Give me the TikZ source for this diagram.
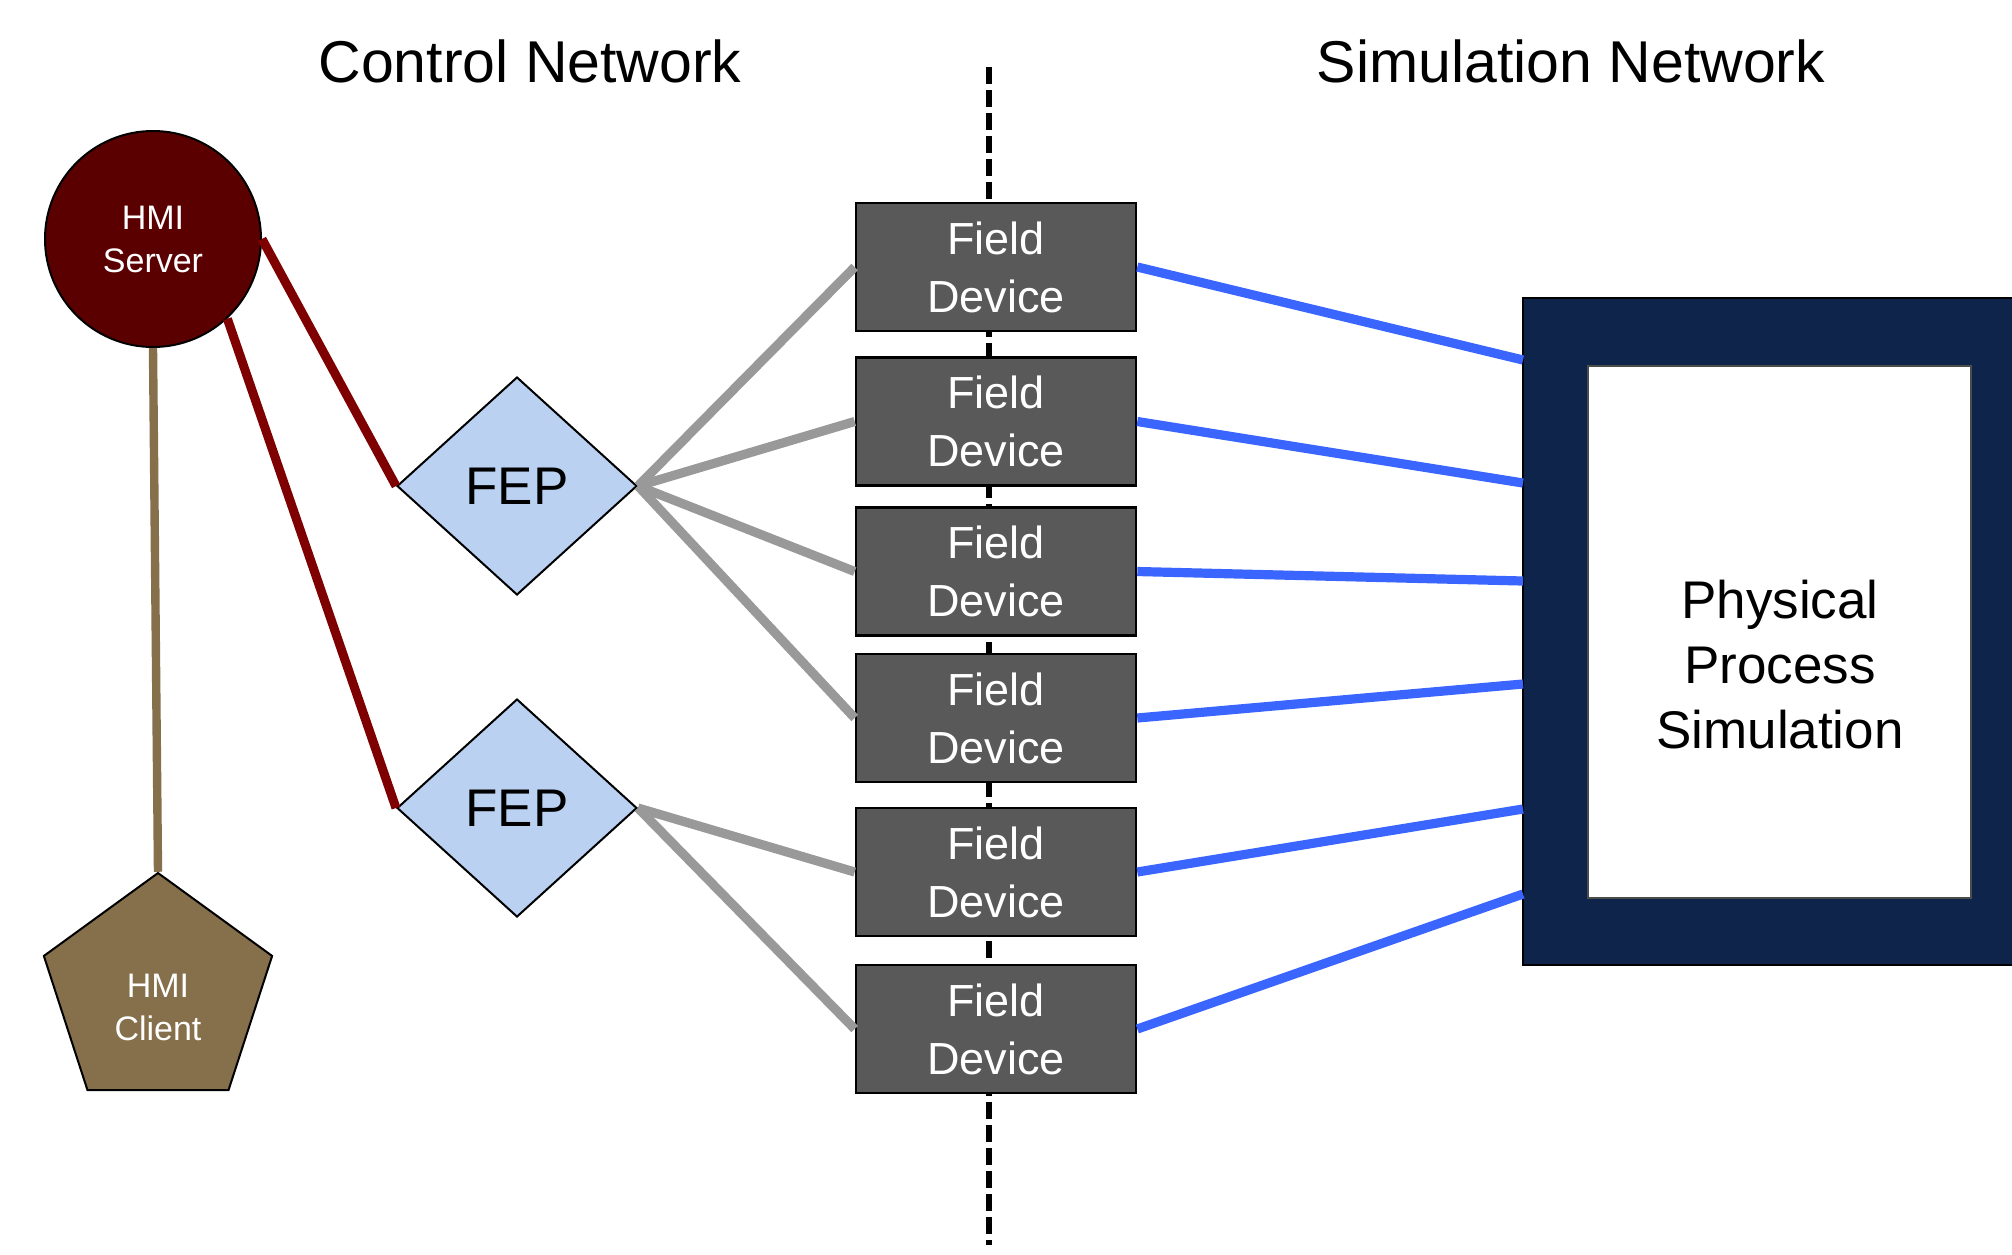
\documentclass[tikz,border=0pt]{standalone}
\usepackage{fontspec}
\setmainfont{Liberation Sans}
\usetikzlibrary{shapes.geometric,calc}
\definecolor{srvfill}{HTML}{5A0000}
\definecolor{redline}{HTML}{7F0000}
\definecolor{tanc}{HTML}{86704B}
\definecolor{fepfill}{HTML}{BAD1F2}
\definecolor{fdfill}{HTML}{595959}
\definecolor{grayline}{HTML}{999999}
\definecolor{blueline}{HTML}{3A66FF}
\definecolor{navy}{HTML}{0F244A}
\begin{document}
\begin{tikzpicture}[x=0.5pt,y=-0.5pt,
  title/.style={font=\fontsize{29.5}{35}\selectfont, anchor=base, inner sep=0},
  divider/.style={line width=3pt, dash pattern=on 8.5pt off 3pt},
  server/.style={circle, fill=srvfill, draw=black, line width=1pt, minimum size=108pt, inner sep=0,
    text=white, font=\fontsize{17}{21.5}\selectfont, align=center},
  client/.style={regular polygon, regular polygon sides=5, minimum size=120pt, inner sep=0,
    fill=tanc, draw=black, line width=1pt},
  clienttext/.style={text=white, font=\fontsize{17}{21.5}\selectfont, align=center, inner sep=0},
  fep/.style={diamond, minimum width=120pt, minimum height=109pt, inner sep=0, fill=fepfill,
    draw=black, line width=1pt, font=\fontsize{26.5}{30}\selectfont},
  fd/.style={rectangle, fill=fdfill, draw=black, line width=1.3pt, minimum width=140pt,
    minimum height=64pt, inner sep=0, text=white, font=\fontsize{22.5}{29}\selectfont, align=center},
  outerbox/.style={rectangle, fill=navy, draw=black, line width=1pt, minimum width=253.5pt,
    minimum height=333.5pt, inner sep=0},
  innerbox/.style={rectangle, fill=white, draw=black!70, line width=0.8pt, minimum width=191.5pt,
    minimum height=266pt, inner sep=0},
  ppstext/.style={font=\fontsize{26.5}{32.5}\selectfont, align=center, inner sep=0},
  redlink/.style={draw=redline, line width=4.5pt},
  tanlink/.style={draw=tanc, line width=4.2pt},
  graylink/.style={draw=grayline, line width=4.6pt},
  bluelink/.style={draw=blueline, line width=4.6pt}
]
\useasboundingbox (0,0) rectangle (2012,1254);
\clip (0,0) rectangle (2012,1254);

% titles
\node[title] (t1) at (530,82) {Control Network};
\node[title] (t2) at (1571,82) {Simulation Network};

% divider
\coordinate (dtop) at (989,67);
\coordinate (dbot) at (989,1245);
\draw[divider] (dtop) -- (dbot);

% physical process
\node[outerbox] (pps) at (1776.5,631.5) {};
\node[innerbox] (ppsin) at (1779.5,632) {};
\node[ppstext] (ppst) at (1780,665) {Physical\\Process\\Simulation};

% links (drawn before the nodes they end on)
\coordinate (p1) at (1523,360);
\coordinate (p2) at (1523,483);
\coordinate (p3) at (1523,581);
\coordinate (p4) at (1523,684);
\coordinate (p5) at (1523,809);
\coordinate (p6) at (1523,894);

% server and client
\node[server] (server) at (153,239) {HMI\\Server};
\node[client] (client) at (158,993) {};
\node[clienttext] (clientlbl) at ([yshift=-7pt]client.center) {HMI\\Client};

% FEPs
\node[fep] (fep1) at (517,486) {FEP};
\node[fep] (fep2) at (517,808) {FEP};

% field devices
\node[fd] (fd1) at (996,267) {Field\\Device};
\node[fd] (fd2) at (996,421.5) {Field\\Device};
\node[fd] (fd3) at (996,571.5) {Field\\Device};
\node[fd] (fd4) at (996,718) {Field\\Device};
\node[fd] (fd5) at (996,872) {Field\\Device};
\node[fd] (fd6) at (996,1029) {Field\\Device};

\draw[tanlink] (server.south) -- (client.north);
\draw[redlink] (server.east) -- (fep1.west);
\draw[redlink] (server.-47) -- (fep2.west);
\draw[graylink] (fep1.east) -- (fd1.west);
\draw[graylink] (fep1.east) -- (fd2.west);
\draw[graylink] (fep1.east) -- (fd3.west);
\draw[graylink] (fep1.east) -- (fd4.west);
\draw[graylink] (fep2.east) -- (fd5.west);
\draw[graylink] (fep2.east) -- (fd6.west);
\draw[bluelink] (fd1.east) -- (p1);
\draw[bluelink] (fd2.east) -- (p2);
\draw[bluelink] (fd3.east) -- (p3);
\draw[bluelink] (fd4.east) -- (p4);
\draw[bluelink] (fd5.east) -- (p5);
\draw[bluelink] (fd6.east) -- (p6);
\end{tikzpicture}
\end{document}
